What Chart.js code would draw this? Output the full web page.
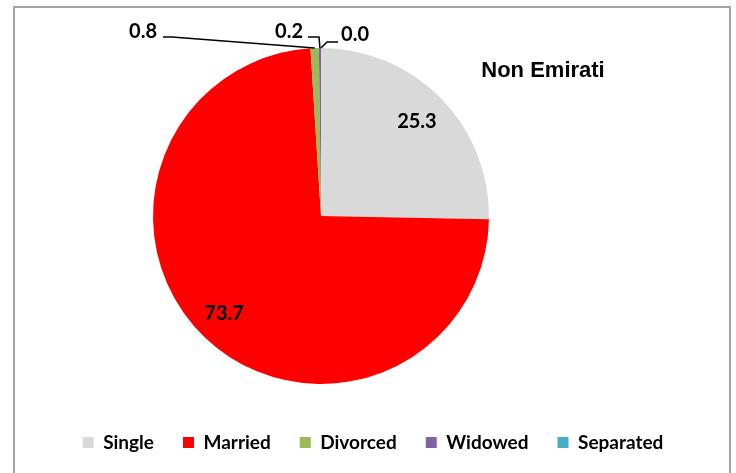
<!DOCTYPE html>
<html lang="en">
<head>
    <meta charset="UTF-8">
    <script src="https://cdn.jsdelivr.net/npm/chart.js"></script>
    <title>Non Emirati</title>
    <style>
        body { margin: 0; background: #fff; }
        #wrap { position: relative; width: 736px; height: 473px; overflow: hidden; }
        #frame { position: absolute; left: 13px; top: 6px; width: 714px; height: 520px; border: 2px solid #a3a3a3; }
        #chart { position: absolute; left: 0; top: 0; }
    </style>
</head>
<body>
    <div id="wrap">
        <div id="frame"></div>
        <canvas id="chart" width="736" height="473"></canvas>
    </div>

    <script>
        // data
        const categories = ['Single', 'Married', 'Divorced', 'Widowed', 'Separated'];
        const shares = [25.3, 73.7, 0.8, 0.2, 0.0];
        const colors = ['#d9d9d9', '#ff0000', '#9bbb59', '#8064a2', '#4bacc6'];
        const chartTitle = 'Non Emirati';

        // where the pie sits inside the frame
        const pieBox = {
            id: 'pieBox',
            afterLayout(chart) {
                const a = chart.chartArea;
                a.left = 153; a.right = 489; a.top = 48; a.bottom = 384;
                a.width = 336; a.height = 336;
            }
        };

        // leader lines for the thin slices: text offset, then line bend points (from pie centre)
        const callouts = {
            2: { text: [-178, -184], line: [[-158, -179], [-149, -179]] },
            3: { text: [-32, -184], line: [[-13, -179], [-2, -179]] },
            4: { text: [34, -181], line: [[17, -174], [6, -174]] }
        };

        const labelsPlugin = {
            id: 'sliceLabels',
            afterDatasetsDraw(chart) {
                const ctx = chart.ctx;
                const arcs = chart.getDatasetMeta(0).data;
                ctx.save();
                ctx.font = 'bold 20px Lato';
                ctx.fillStyle = '#000';
                ctx.textAlign = 'center';
                ctx.textBaseline = 'middle';
                arcs.forEach((arc, i) => {
                    const p = arc.getProps(['x', 'y', 'startAngle', 'endAngle', 'outerRadius'], true);
                    const mid = (p.startAngle + p.endAngle) / 2;
                    const txt = shares[i].toFixed(1);
                    const c = callouts[i];
                    if (!c) {
                        const r = p.outerRadius * 0.8;
                        const dx = i === 1 ? -4 : 0;
                        ctx.fillText(txt, p.x + Math.cos(mid) * r + dx, p.y + Math.sin(mid) * r);
                        return;
                    }
                    const ax = p.x + Math.cos(mid) * p.outerRadius;
                    const ay = p.y + Math.sin(mid) * p.outerRadius;
                    ctx.beginPath();
                    ctx.strokeStyle = '#000';
                    ctx.lineWidth = 1.5;
                    ctx.moveTo(p.x + c.line[0][0], p.y + c.line[0][1]);
                    ctx.lineTo(p.x + c.line[1][0], p.y + c.line[1][1]);
                    ctx.lineTo(ax, ay);
                    ctx.stroke();
                    ctx.fillText(txt, p.x + c.text[0], p.y + c.text[1]);
                });
                // title
                ctx.font = 'bold 22px "Liberation Sans"';
                ctx.fillText(chartTitle, 543, 71);
                ctx.restore();
            }
        };

        new Chart(document.getElementById('chart'), {
            type: 'pie',
            data: {
                labels: categories,
                datasets: [{
                    data: shares,
                    backgroundColor: colors,
                    borderWidth: 0
                }]
            },
            options: {
                responsive: false,
                animation: false,
                layout: { padding: { left: 10, bottom: 11 } },
                plugins: {
                    tooltip: { enabled: false },
                    legend: {
                        position: 'bottom',
                        labels: {
                            boxWidth: 11,
                            boxHeight: 11,
                            padding: 29,
                            color: '#000',
                            font: { family: 'Lato', size: 19, weight: 'bold' }
                        }
                    }
                }
            },
            plugins: [pieBox, labelsPlugin]
        });
    </script>
</body>
</html>
